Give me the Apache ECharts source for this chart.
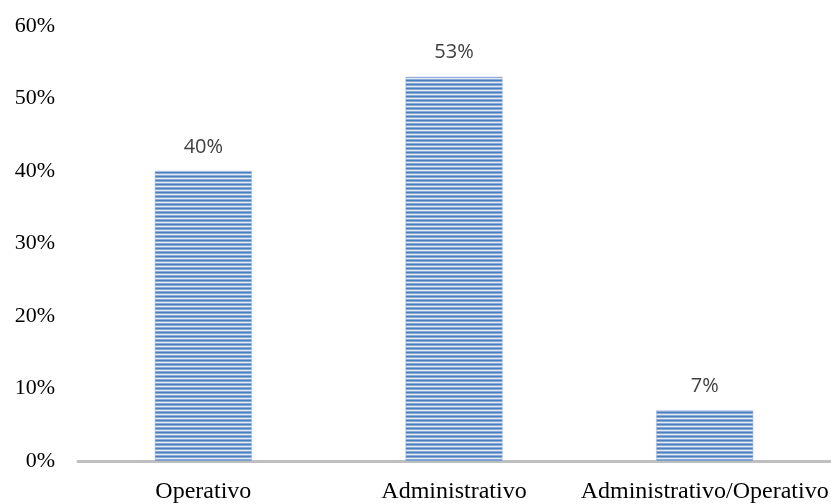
<!DOCTYPE html>
<html><head><meta charset="utf-8">
<script src="https://cdn.jsdelivr.net/npm/echarts@6/dist/echarts.min.js"></script>
<style>html,body{margin:0;padding:0;background:#fff}#c{width:831px;height:504px}</style>
</head><body><div id="c"></div>
<script>
const categories = ['Operativo', 'Administrativo', 'Administrativo/Operativo'];
const values = [40, 53, 7];
const yTicks = [0, 10, 20, 30, 40, 50, 60];

const pc = document.createElement('canvas');
pc.width = 4; pc.height = 4;
const g = pc.getContext('2d');
const rows = ['#4a7ebb', '#8aabd6', '#e2eaf5', '#8aabd6'];
rows.forEach((c, i) => { g.fillStyle = c; g.fillRect(0, i, 4, 1); });

const chart = echarts.init(document.getElementById('c'));
chart.setOption({
  animation: false,
  grid: { left: 78, right: -3, top: 26, bottom: 41 },
  xAxis: {
    type: 'category', data: categories,
    axisLine: { lineStyle: { color: '#bfbfbf', width: 3 } },
    axisTick: { show: false },
    axisLabel: { interval: 0, hideOverlap: false, fontFamily: 'Liberation Serif', fontSize: 24, color: '#000', margin: 19 }
  },
  yAxis: {
    type: 'value', min: yTicks[0], max: yTicks[yTicks.length - 1], interval: 10,
    axisLine: { show: false }, axisTick: { show: false }, splitLine: { show: false },
    axisLabel: { fontFamily: 'Liberation Serif', fontSize: 22, color: '#000', margin: 23, formatter: v => v + '%' }
  },
  series: [{
    type: 'bar', data: values, barWidth: 97,
    itemStyle: { color: { image: pc, repeat: 'repeat' }, borderColor: '#9db8de', borderWidth: 0.5 },
    label: { show: true, position: 'top', distance: 14, formatter: p => p.value + '%',
      fontFamily: 'Open Sans', fontSize: 20, color: '#404040' }
  }]
});
</script></body></html>
